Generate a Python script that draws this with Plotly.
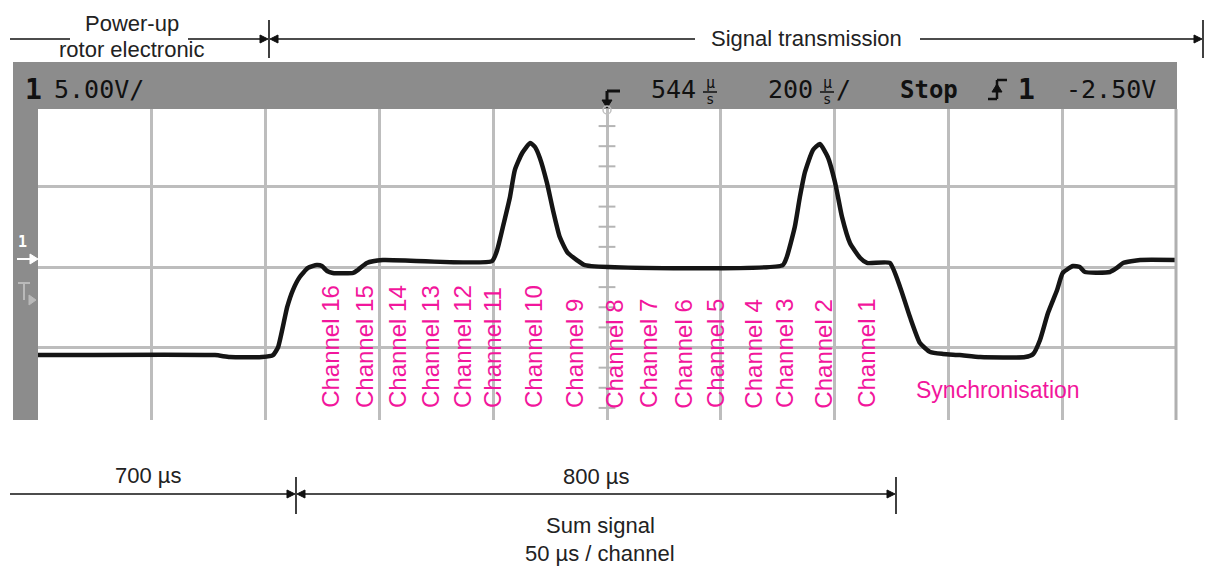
import plotly.graph_objects as go

# ---------------- data ----------------
# time axis in microseconds (200 us/div, delay 544 us at screen centre)
time_us = [-456, -145, -119, -62, -43, -34, -18, -8, 4, 18.5, 34, 43, 52, 62, 98, 106, 122, 150,
           342, 351, 361, 373.5, 382, 395, 409, 417.5, 426, 438.5, 449, 461, 474, 491, 505,
           853, 860, 874, 883, 892, 906, 918, 932, 945, 957, 971, 989, 1001, 1041,
           1059, 1076.5, 1094, 1112, 1134.5, 1164, 1200, 1279, 1293, 1305, 1319, 1335, 1345,
           1363, 1375, 1384, 1428, 1440, 1451, 1481, 1544]
# signal in volts (5 V/div)
volts = [-5.47, -5.47, -5.59, -5.59, -5.47, -4.97, -2.48, -1.43, -0.62, -0.06, 0.12, 0.06, -0.25, -0.37, -0.37, -0.19, 0.25, 0.43,
         0.37, 1.06, 2.48, 4.35, 6.02, 7.08, 7.70, 7.45, 6.77, 5.22, 3.54, 1.86, 0.93, 0.43, 0.12,
         0.12, 0.62, 2.48, 4.35, 5.90, 7.27, 7.64, 6.83, 5.22, 3.11, 1.49, 0.56, 0.25, 0.25,
         -1.24, -3.11, -4.72, -5.28, -5.40, -5.47, -5.59, -5.59, -5.40, -4.53, -2.86, -1.43, -0.37,
         0.06, 0.0, -0.31, -0.31, -0.06, 0.25, 0.43, 0.43]

channel_labels = ["Channel 16", "Channel 15", "Channel 14", "Channel 13", "Channel 12", "Channel 11",
                  "Channel 10", "Channel 9", "Channel 8", "Channel 7", "Channel 6", "Channel 5",
                  "Channel 4", "Channel 3", "Channel 2", "Channel 1"]
channel_t = [59, 119, 177, 235, 291, 344, 416, 488, 558, 618, 679, 736, 802, 857, 925, 1001]
sync_t, sync_v = 1231, -7.64
center_minor_ticks = [-8.75, -7.5, -6.25, -3.75, -2.5, -1.25, 1.25, 2.5, 3.75, 6.25, 7.5, 8.75]

header_v_div = "5.00V/"
header_delay = "544"
header_tdiv = "200"
header_trig = "-2.50V"

# ---------------- layout helpers (pixel -> paper) ----------------
W, H = 1214, 572
L, R, T, B = 38, 1176, 109, 420


def px(x):
    return (x - L) / (R - L)


def py(y):
    return (B - y) / (B - T)


MAG = "#F2169C"
GRID = "#bdbdbd"
SCOPE_GRAY = "#8c8c8c"
INK = "#222222"

fig = go.Figure()
fig.add_trace(go.Scatter(x=time_us, y=volts, mode="lines",
                         line=dict(color="#151515", width=4.5, shape="spline", smoothing=0.5),
                         hoverinfo="skip", showlegend=False))
fig.add_trace(go.Scatter(x=[544] * len(center_minor_ticks), y=center_minor_ticks, mode="markers",
                         marker=dict(symbol="line-ew", size=12, line=dict(width=2, color="#b5b5b5")),
                         hoverinfo="skip", showlegend=False))

shapes = []
annotations = []


def rect(x0, y0, x1, y1, color):
    shapes.append(dict(type="rect", xref="paper", yref="paper", x0=px(x0), x1=px(x1),
                       y0=py(y1), y1=py(y0), fillcolor=color, line=dict(width=0)))


def seg(x0, y0, x1, y1, color="#111", w=1.6):
    shapes.append(dict(type="line", xref="paper", yref="paper", x0=px(x0), x1=px(x1),
                       y0=py(y0), y1=py(y1), line=dict(color=color, width=w)))


def tri(points, color="#111"):
    p = "M " + " L ".join(f"{px(a):.5f},{py(b):.5f}" for a, b in points) + " Z"
    shapes.append(dict(type="path", xref="paper", yref="paper", path=p,
                       fillcolor=color, line=dict(color=color, width=1)))


def head(tip, y, d):
    # d = +1 points right, -1 points left
    tri([(tip, y), (tip - 8 * d, y - 4), (tip - 8 * d, y + 4)])


def text(x, y, s, size=22, color=INK, xa="center", ya="middle", family="Liberation Sans, Arial", bold=False):
    annotations.append(dict(xref="paper", yref="paper", x=px(x), y=py(y), text=(f"<b>{s}</b>" if bold else s),
                            showarrow=False, xanchor=xa, yanchor=ya,
                            font=dict(size=size, color=color, family=family)))


# scope frame
rect(13, 62, 1177, 109, SCOPE_GRAY)
rect(13, 62, 38, 420, SCOPE_GRAY)
seg(1176, 109, 1176, 420, color="#b0b0b0", w=3)

# header readouts
MONO = "DejaVu Sans Mono"
text(23, 90, "1", size=28, color="#111", xa="left", family=MONO, bold=True)
text(52, 90, header_v_div, size=25, color="#111", xa="left", family=MONO)
# trigger position marker
seg(620, 91, 607, 91, color="#111", w=3)
seg(607, 91, 607, 101, color="#111", w=3)
tri([(607, 108), (602, 100), (612, 100)])
text(649, 90, header_delay, size=25, color="#111", xa="left", family=MONO)
text(710, 83, "µ", size=15, color="#111", family=MONO)
seg(703, 92, 717, 92, color="#111", w=1.5)
text(710, 99, "s", size=14, color="#111", family=MONO)
text(766, 90, header_tdiv, size=25, color="#111", xa="left", family=MONO)
text(827, 83, "µ", size=15, color="#111", family=MONO)
seg(820, 92, 834, 92, color="#111", w=1.5)
text(827, 99, "s", size=14, color="#111", family=MONO)
text(834, 90, "/", size=25, color="#111", xa="left", family=MONO)
text(898, 90, "Stop", size=24, color="#111", xa="left", family=MONO, bold=True)
# rising-edge trigger glyph
seg(988, 99, 997, 99, color="#111", w=2.5)
seg(997, 99, 997, 80, color="#111", w=2.5)
seg(997, 80, 1007, 80, color="#111", w=2.5)
tri([(997, 84), (992, 92), (1002, 92)])
text(1016, 90, "1", size=28, color="#111", xa="left", family=MONO, bold=True)
text(1064, 90, header_trig, size=25, color="#111", xa="left", family=MONO)

# ground / trigger level markers on left strip
text(22, 242, "1", size=15, color="white", family=MONO, bold=True)
seg(17, 259, 31, 259, color="white", w=2)
tri([(38, 259), (30, 254), (30, 264)], color="white")
seg(18, 283, 30, 283, color="#b9b9b9", w=2)
seg(24, 283, 24, 300, color="#b9b9b9", w=2)
tri([(36, 300), (29, 295), (29, 305)], color="#b9b9b9")
shapes.append(dict(type="circle", xref="paper", yref="paper", x0=px(603), x1=px(611), y0=py(114), y1=py(106),
                   line=dict(color="#c0c0c0", width=1.5)))

# top dimension line
seg(10, 39, 70, 39)
seg(188, 39, 262, 39)
head(268, 39, 1)
seg(269, 20, 269, 58)
head(270, 39, -1)
seg(276, 39, 695, 39)
seg(920, 39, 1196, 39)
head(1202, 39, 1)
seg(1203, 20, 1203, 58)
text(132, 23, "Power-up")
text(132, 50, "rotor electronic")
text(806, 38, "Signal transmission")

# bottom dimension line
seg(10, 494, 289, 494)
head(295, 494, 1)
seg(296, 477, 296, 514)
head(297, 494, -1)
seg(303, 494, 889, 494)
head(895, 494, 1)
seg(896, 477, 896, 514)
text(148, 475, "700 µs")
text(596, 476, "800 µs")
text(600, 525, "Sum signal")
text(600, 553, "50 µs / channel")

# channel labels (rotated, magenta)
for lab, t in zip(channel_labels, channel_t):
    annotations.append(dict(xref="x", yref="y", x=t, y=-8.9, text=lab, showarrow=False, textangle=-90,
                            xanchor="center", yanchor="bottom",
                            font=dict(size=24, color=MAG, family="Liberation Sans, Arial")))
annotations.append(dict(xref="x", yref="y", x=sync_t, y=sync_v, text="Synchronisation", showarrow=False,
                        xanchor="center", yanchor="middle",
                        font=dict(size=23, color=MAG, family="Liberation Sans, Arial")))

fig.update_layout(
    width=W, height=H,
    margin=dict(l=L, r=W - R, t=T, b=H - B, pad=0),
    paper_bgcolor="white", plot_bgcolor="white",
    shapes=shapes, annotations=annotations,
    showlegend=False,
    xaxis=dict(range=[-456, 1544], tick0=-456, dtick=200, showgrid=True, gridcolor=GRID, gridwidth=2.5,
               zeroline=False, showticklabels=False, ticks="", showline=False, fixedrange=True),
    yaxis=dict(range=[-9.50, 9.81], tick0=0, dtick=5, showgrid=True, gridcolor=GRID, gridwidth=2.5,
               zeroline=False, showticklabels=False, ticks="", showline=False, fixedrange=True),
)

fig.write_html("out.html", config={"displayModeBar": False})

# remove the default page margin so the figure sits at the window origin
with open("out.html", "r", encoding="utf-8") as f:
    html = f.read()
html = html.replace("<head>", "<head><style>html,body{margin:0;padding:0;overflow:hidden;}</style>", 1)
with open("out.html", "w", encoding="utf-8") as f:
    f.write(html)
